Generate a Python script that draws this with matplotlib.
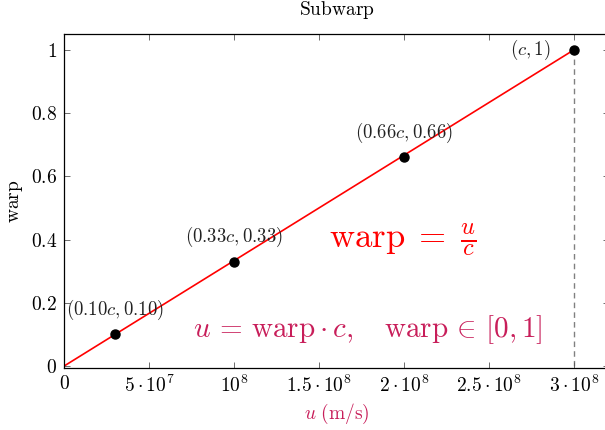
import matplotlib
matplotlib.use("Agg")
import matplotlib.pyplot as plt

plt.rcParams['mathtext.fontset'] = 'cm'
plt.rcParams['font.family'] = ['DejaVu Serif']

# Data
point_u = [3e7, 1e8, 2e8, 3e8]
point_warp = [0.10, 0.33, 0.66, 1.0]
point_labels = [r'$(0.10c,0.10)$', r'$(0.33c,0.33)$', r'$(0.66c,0.66)$', r'$(c,1)$']
line_u = [0, 3e8]
line_warp = [0, 1]
c_speed = 3e8
xticks = [0, 5e7, 1e8, 1.5e8, 2e8, 2.5e8, 3e8]
xtick_labels = [r'$0$', r'$5\cdot10^{7}$', r'$10^{8}$', r'$1.5\cdot10^{8}$',
                r'$2\cdot10^{8}$', r'$2.5\cdot10^{8}$', r'$3\cdot10^{8}$']
yticks = [0, 0.2, 0.4, 0.6, 0.8, 1.0]
ytick_labels = [r'$0$', r'$0.2$', r'$0.4$', r'$0.6$', r'$0.8$', r'$1$']

purple = '#c81e5a'

fig = plt.figure(figsize=(6.05, 4.30), dpi=100)
ax = fig.add_axes([64/605, (430-368)/430, 545/605, (368-34)/430])

ax.plot(line_u, line_warp, color='red', lw=1.2, zorder=2)
ax.plot([c_speed, c_speed], [0, 1], color='gray', lw=1.0, ls=(0, (4, 3)), zorder=1)
ax.plot(point_u, point_warp, 'o', color='black', ms=6.5, zorder=3)

for i, (u, w, lab) in enumerate(zip(point_u, point_warp, point_labels)):
    if i == len(point_u) - 1:
        ax.annotate(lab, (u, w), xytext=(-17, 0), textcoords='offset points',
                    ha='right', va='center', fontsize=13.5, color='#222222')
    else:
        ax.annotate(lab, (u, w), xytext=(0, 17.5), textcoords='offset points',
                    ha='center', va='center', fontsize=13.5, color='#222222')

ax.text(1.99e8, 0.40, r'$\mathrm{warp} \;=\; \frac{u}{c}$', color='red', fontsize=25,
        ha='center', va='center')
ax.text(1.79e8, 0.115, r'$u \,=\, \mathrm{warp}\cdot c,\quad \mathrm{warp} \,\in\, [0,1]$',
        color=purple, fontsize=21, ha='center', va='center')

ax.set_xlim(0, 3.206e8)
ax.set_ylim(-0.006, 1.05)
ax.set_xticks(xticks)
ax.set_xticklabels(xtick_labels)
ax.set_yticks(yticks)
ax.set_yticklabels(ytick_labels)
ax.tick_params(direction='in', length=4, width=0.6, top=True, right=True,
               labelsize=14, pad=5, color='#555555')
for s in ax.spines.values():
    s.set_linewidth(0.9)

ax.set_title(r'$\mathrm{Subwarp}$', fontsize=14, pad=14)
ax.set_xlabel(r'$u\ \mathrm{(m/s)}$', color=purple, fontsize=14, labelpad=4)
ax.set_ylabel(r'$\mathrm{warp}$', fontsize=14, labelpad=4)

fig.savefig('out.png', dpi=100)
